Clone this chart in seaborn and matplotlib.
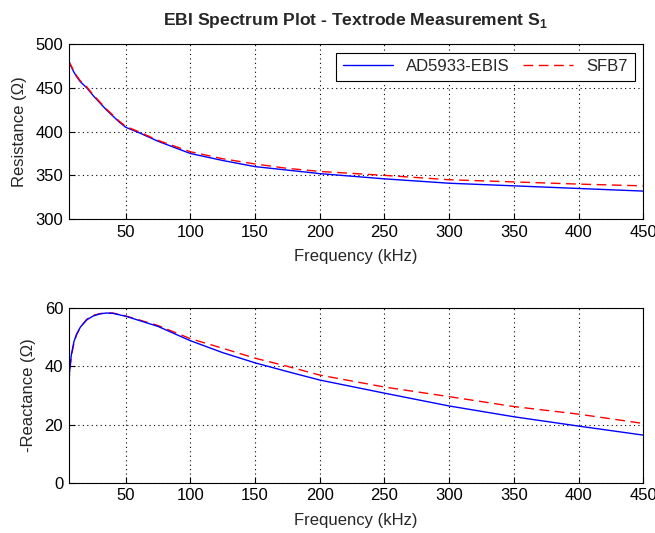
import numpy as np
import pandas as pd
import matplotlib
matplotlib.use("Agg")
import matplotlib.pyplot as plt
import seaborn as sns

# ---- data ----
freq_r = [6, 8, 10, 12, 15, 20, 25, 30, 35, 40, 45, 50, 60, 75, 100, 125, 150, 175, 200, 250, 300, 350, 400, 450]
res_ad5933 = [480, 474, 468, 463, 457, 450, 441, 433, 425, 418, 411, 405, 399, 389, 375, 367, 360, 356, 352, 346, 341, 338, 335, 332]
res_sfb7 = [481, 475, 469, 464, 458, 451, 442, 434, 426, 419, 412, 406, 400, 390, 377, 369, 363, 358, 354.5, 350, 345, 342.5, 340, 338]

freq_x = [6, 7, 8, 10, 12, 15, 20, 25, 30, 35, 40, 50, 60, 75, 100, 125, 150, 175, 200, 250, 300, 350, 400, 450]
react_ad5933 = [35, 40, 44, 48.5, 51, 53.5, 56, 57.3, 58, 58.3, 58.2, 57.2, 55.8, 53.7, 48.8, 44.7, 41.2, 38.2, 35.3, 30.8, 26.4, 22.7, 19.5, 16.4]
react_sfb7 = [34, 39.5, 43.5, 48, 50.8, 53.5, 56.2, 57.5, 58.1, 58.3, 58.3, 57.3, 56, 54, 49.5, 46.2, 42.8, 40, 37, 32.9, 29.6, 26.2, 23.6, 20.4]

series_names = ["AD5933-EBIS", "SFB7"]
xticks = [50, 100, 150, 200, 250, 300, 350, 400, 450]
res_yticks = [300, 350, 400, 450, 500]
react_yticks = [0, 20, 40, 60]

sns.set_style("ticks")
plt.rcParams['font.family'] = ['Liberation Sans', 'DejaVu Sans']
plt.rcParams['mathtext.fontset'] = 'custom'
plt.rcParams['mathtext.rm'] = 'Liberation Sans'
plt.rcParams['mathtext.bf'] = 'Liberation Sans:bold'

fig = plt.figure(figsize=(6.55, 5.33), dpi=100)
ax1 = fig.add_axes([0.105, 0.589, 0.877, 0.328])
ax2 = fig.add_axes([0.105, 0.094, 0.877, 0.328])

dash = (0, (7, 4))
sns.lineplot(x=freq_r, y=res_ad5933, ax=ax1, color="#0000ff", lw=1.0, label=series_names[0])
sns.lineplot(x=freq_r, y=res_sfb7, ax=ax1, color="#ff0000", lw=1.0, linestyle=dash, label=series_names[1])
sns.lineplot(x=freq_x, y=react_sfb7, ax=ax2, color="#ff0000", lw=1.0, linestyle=dash)
sns.lineplot(x=freq_x, y=react_ad5933, ax=ax2, color="#0000ff", lw=1.0)

for ax, yt, yl, lab in [(ax1, res_yticks, (300, 500), "Resistance (Ω)"),
                        (ax2, react_yticks, (0, 60), "-Reactance (Ω)")]:
    ax.set_xlim(6, 450)
    ax.set_ylim(*yl)
    ax.set_xticks(xticks)
    ax.set_yticks(yt)
    ax.tick_params(direction="in", labelsize=12, length=4, colors="black", pad=4)
    ax.grid(True, color="black", linestyle=(0, (1, 3)), linewidth=0.8)
    for s in ax.spines.values():
        s.set_visible(True)
        s.set_color("black")
        s.set_linewidth(0.8)
    ax.set_xlabel("Frequency (kHz)", fontsize=12, labelpad=7)
    ax.set_ylabel(lab, fontsize=12, labelpad=6)

leg = ax1.legend(loc="upper right", ncol=2, fontsize=12, frameon=True, fancybox=False,
                 edgecolor="black", framealpha=1, handlelength=3.0, columnspacing=0.8,
                 handletextpad=0.8, borderaxespad=0.5, borderpad=0.4)
leg.get_frame().set_linewidth(0.8)

ax1.set_title(r"EBI Spectrum Plot - Textrode Measurement S$_\mathbf{1}$", fontsize=12.6,
              fontweight="bold", pad=14)

fig.savefig("out.png", dpi=100)
